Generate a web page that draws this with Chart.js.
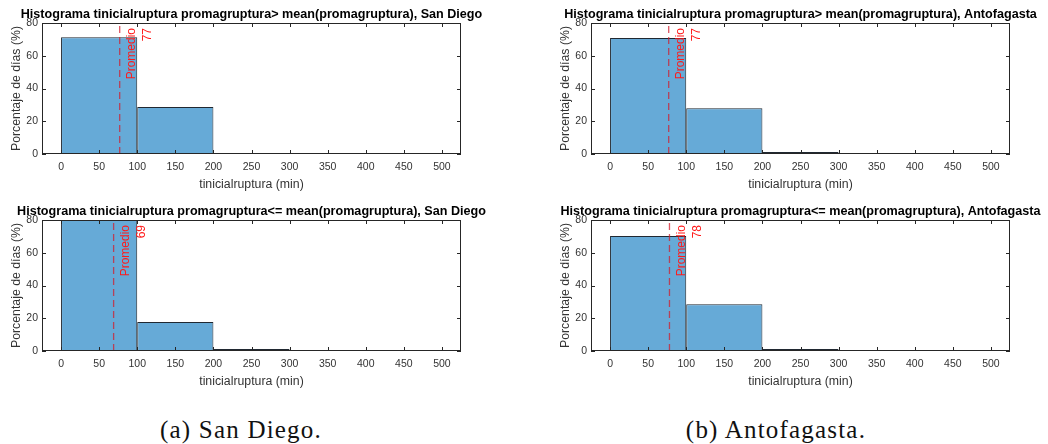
<!DOCTYPE html>
<html>
<head>
<meta charset="utf-8">
<script src="https://cdn.jsdelivr.net/npm/chart.js@4.4.1/dist/chart.umd.min.js"></script>
<style>
  html, body { margin: 0; padding: 0; background: #fff; }
  body { width: 1048px; height: 444px; position: relative; overflow: hidden; }
  canvas { position: absolute; }
  .caption {
    position: absolute; width: 320px; text-align: center;
    font-family: "Liberation Serif", "DejaVu Serif", serif;
    font-size: 25px; line-height: 25px; letter-spacing: 1.2px; color: #111;
  }
</style>
</head>
<body>
<canvas id="c1" width="549" height="197" style="left:0;top:0"></canvas>
<canvas id="c2" width="499" height="197" style="left:549px;top:0"></canvas>
<canvas id="c3" width="549" height="197" style="left:0;top:197px"></canvas>
<canvas id="c4" width="499" height="197" style="left:549px;top:197px"></canvas>
<div class="caption" style="left:81px;top:417px">(a) San Diego.</div>
<div class="caption" style="left:616px;top:417px">(b) Antofagasta.</div>

<script>
// centros de los bins de 100 min
const centrosBins = [50, 150, 250];
const ticksX = [0, 50, 100, 150, 200, 250, 300, 350, 400, 450, 500];
const ticksY = [0, 20, 40, 60, 80];

// porcentaje de días por bin
const sdMayor  = [71.3, 28.7];
const antMayor = [70.9, 27.9, 1.2];
const sdMenor  = [81.1, 17.7, 1.2];
const antMenor = [70.2, 28.6, 1.2];

// promedio de tinicialruptura (min)
const promedios = [77, 77, 69, 78];

const titulos = [
    'Histograma tinicialruptura promagruptura> mean(promagruptura), San Diego',
    'Histograma tinicialruptura promagruptura> mean(promagruptura), Antofagasta',
    'Histograma tinicialruptura promagruptura<= mean(promagruptura), San Diego',
    'Histograma tinicialruptura promagruptura<= mean(promagruptura), Antofagasta'
];

Chart.defaults.font.family = '"Liberation Sans", Arial, sans-serif';
Chart.defaults.color = '#333';

// caja de ejes con ticks hacia adentro, titulo y etiqueta del promedio
const ejesCaja = {
    id: 'ejesCaja',
    afterDatasetsDraw(chart, args, opts) {
        const { ctx, chartArea: a, scales: { x, y } } = chart;
        ctx.save();
        ctx.strokeStyle = '#262626';
        ctx.lineWidth = 1;
        ctx.strokeRect(a.left + 0.5, a.top + 0.5, a.right - a.left - 1, a.bottom - a.top - 1);

        const tl = 4;
        ctx.beginPath();
        ticksX.forEach(v => {
            const px = Math.round(x.getPixelForValue(v)) + 0.5;
            ctx.moveTo(px, a.bottom); ctx.lineTo(px, a.bottom - tl);
            ctx.moveTo(px, a.top); ctx.lineTo(px, a.top + tl);
        });
        ticksY.forEach(v => {
            const py = Math.round(y.getPixelForValue(v)) + 0.5;
            ctx.moveTo(a.left, py); ctx.lineTo(a.left + tl, py);
            ctx.moveTo(a.right, py); ctx.lineTo(a.right - tl, py);
        });
        ctx.stroke();

        // texto vertical "Promedio" + valor
        const mx = x.getPixelForValue(opts.promedio);
        ctx.fillStyle = '#ff1a1a';
        ctx.font = '12px "Liberation Sans", Arial, sans-serif';
        ctx.translate(mx + 12, a.top + 5);
        ctx.rotate(-Math.PI / 2);
        ctx.textAlign = 'right';
        ctx.textBaseline = 'middle';
        ctx.fillText('Promedio', 0, 0);
        ctx.fillText(String(opts.promedio), 0, 16);
        ctx.restore();

        // titulo centrado sobre los ejes
        ctx.save();
        ctx.fillStyle = '#000';
        ctx.font = 'bold 12.6px "Liberation Sans", Arial, sans-serif';
        ctx.textAlign = 'center';
        ctx.textBaseline = 'alphabetic';
        ctx.fillText(opts.titulo, (a.left + a.right) / 2, a.top - 5);
        ctx.restore();
    }
};

function crearHistograma(id, valores, promedio, titulo) {
    const canvas = document.getElementById(id);
    const datos = valores.map((v, i) => ({ x: centrosBins[i], y: v }));

    new Chart(canvas.getContext('2d'), {
        type: 'bar',
        data: {
            datasets: [{
                type: 'line',
                data: [{ x: promedio, y: 0 }, { x: promedio, y: 80 }],
                borderColor: 'rgba(210, 30, 45, 0.75)',
                borderWidth: 1.3,
                borderDash: [7, 4],
                pointRadius: 0
            }, {
                type: 'bar',
                data: datos,
                backgroundColor: '#66aad7',
                borderColor: 'rgba(20, 28, 38, 0.95)',
                borderWidth: 1,
                barPercentage: 1,
                // el ancho base sale del espaciado de ticks (50); cada bin abarca 100
                categoryPercentage: 2
            }]
        },
        options: {
            responsive: false,
            devicePixelRatio: 1,
            animation: false,
            layout: { padding: { left: 0, top: 23, right: canvas.width - 461, bottom: 0 } },
            plugins: {
                legend: { display: false },
                tooltip: { enabled: false },
                ejesCaja: { promedio: promedio, titulo: titulo }
            },
            scales: {
                x: {
                    type: 'linear',
                    min: -25,
                    max: 525,
                    offset: false,
                    grid: { display: false, drawTicks: false },
                    border: { display: false },
                    afterBuildTicks: s => { s.ticks = ticksX.map(v => ({ value: v })); },
                    afterFit: s => { s.height = 43; },
                    ticks: { padding: 7, font: { size: 10.5 }, callback: v => String(v), maxRotation: 0 },
                    title: { display: true, text: 'tinicialruptura (min)', font: { size: 12.3 }, padding: { top: 0, bottom: 5 } }
                },
                y: {
                    min: 0,
                    max: 80,
                    grid: { display: false, drawTicks: false },
                    border: { display: false },
                    afterBuildTicks: s => { s.ticks = ticksY.map(v => ({ value: v })); },
                    afterFit: s => { s.width = 42; },
                    ticks: { padding: 4, font: { size: 10.5 }, callback: v => String(v) },
                    title: { display: true, text: 'Porcentaje de días (%)', font: { size: 12.3 }, padding: { top: 9, bottom: 0 } }
                }
            }
        },
        plugins: [ejesCaja]
    });
}

crearHistograma('c1', sdMayor, promedios[0], titulos[0]);
crearHistograma('c2', antMayor, promedios[1], titulos[1]);
crearHistograma('c3', sdMenor, promedios[2], titulos[2]);
crearHistograma('c4', antMenor, promedios[3], titulos[3]);
</script>
</body>
</html>
